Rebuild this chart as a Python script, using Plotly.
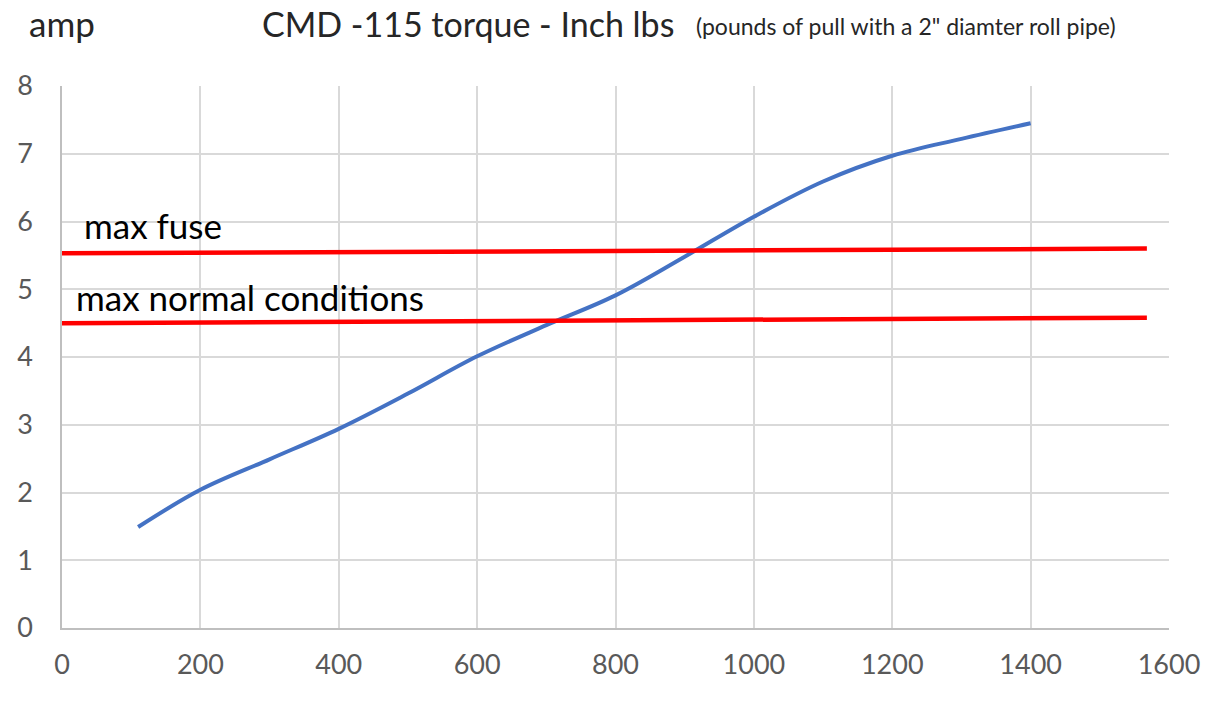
import plotly.graph_objects as go

torque = [110, 200, 300, 400, 500, 600, 700, 800, 900, 1000, 1100, 1200, 1300, 1400]
amps = [1.49, 2.04, 2.49, 2.94, 3.46, 4.01, 4.47, 4.91, 5.48, 6.07, 6.59, 6.97, 7.22, 7.45]

fuse_x = [0, 1568]
fuse_y = [5.53, 5.60]
normal_x = [0, 1568]
normal_y = [4.50, 4.58]

x_ticks = [0, 200, 400, 600, 800, 1000, 1200, 1400, 1600]
y_ticks = [0, 1, 2, 3, 4, 5, 6, 7, 8]

FONT = "Lato"

fig = go.Figure()
fig.add_trace(go.Scatter(x=torque, y=amps, mode="lines", line=dict(color="#4472C4", width=4, shape="spline"),
                         showlegend=False, hoverinfo="skip"))
fig.add_trace(go.Scatter(x=fuse_x, y=fuse_y, mode="lines", line=dict(color="#FF0000", width=4.5),
                         showlegend=False, hoverinfo="skip"))
fig.add_trace(go.Scatter(x=normal_x, y=normal_y, mode="lines", line=dict(color="#FF0000", width=4.5),
                         showlegend=False, hoverinfo="skip"))

fig.add_annotation(x=29, y=5.95, xref="x", yref="y", text="max fuse", showarrow=False,
                   xanchor="left", yanchor="middle", font=dict(family=FONT, size=35, color="#000000"))
fig.add_annotation(x=18, y=4.89, xref="x", yref="y", text="max normal conditions", showarrow=False,
                   xanchor="left", yanchor="middle", font=dict(family=FONT, size=35, color="#000000"))

fig.add_annotation(x=-0.0317, y=1.116, xref="paper", yref="paper", text="amp", showarrow=False,
                   xanchor="left", yanchor="middle", font=dict(family=FONT, size=35, color="#262626"))
fig.add_annotation(x=0.179, y=1.116, xref="paper", yref="paper", text="CMD -115 torque - Inch lbs", showarrow=False,
                   xanchor="left", yanchor="middle", font=dict(family=FONT, size=34, color="#262626"))
fig.add_annotation(x=0.571, y=1.111, xref="paper", yref="paper",
                   text="(pounds of pull with a 2\" diamter roll pipe)", showarrow=False,
                   xanchor="left", yanchor="middle", font=dict(family=FONT, size=23, color="#262626"))

fig.update_layout(
    width=1215, height=707,
    margin=dict(l=62, r=46, t=86, b=79),
    paper_bgcolor="white", plot_bgcolor="white",
    font=dict(family=FONT),
)
fig.update_xaxes(range=[0, 1600], tickvals=x_ticks, showgrid=True, gridcolor="#D9D9D9", gridwidth=1.5,
                 showline=True, linecolor="#BFBFBF", linewidth=1.5, zeroline=False,
                 tickfont=dict(family=FONT, size=27, color="#595959"), ticks="", ticklabelstandoff=12)
fig.update_yaxes(range=[0, 8], tickvals=y_ticks, showgrid=True, gridcolor="#D9D9D9", gridwidth=1.5,
                 showline=True, linecolor="#BFBFBF", linewidth=1.5, zeroline=False,
                 tickfont=dict(family=FONT, size=27, color="#595959"), ticks="", ticklabelstandoff=22)

# remove the page's default 8px body margin so the figure sits at the window's top-left corner
fig.write_html("out.html", config={"displayModeBar": False},
               post_script="document.body.style.margin='0';document.body.style.overflow='hidden';")
